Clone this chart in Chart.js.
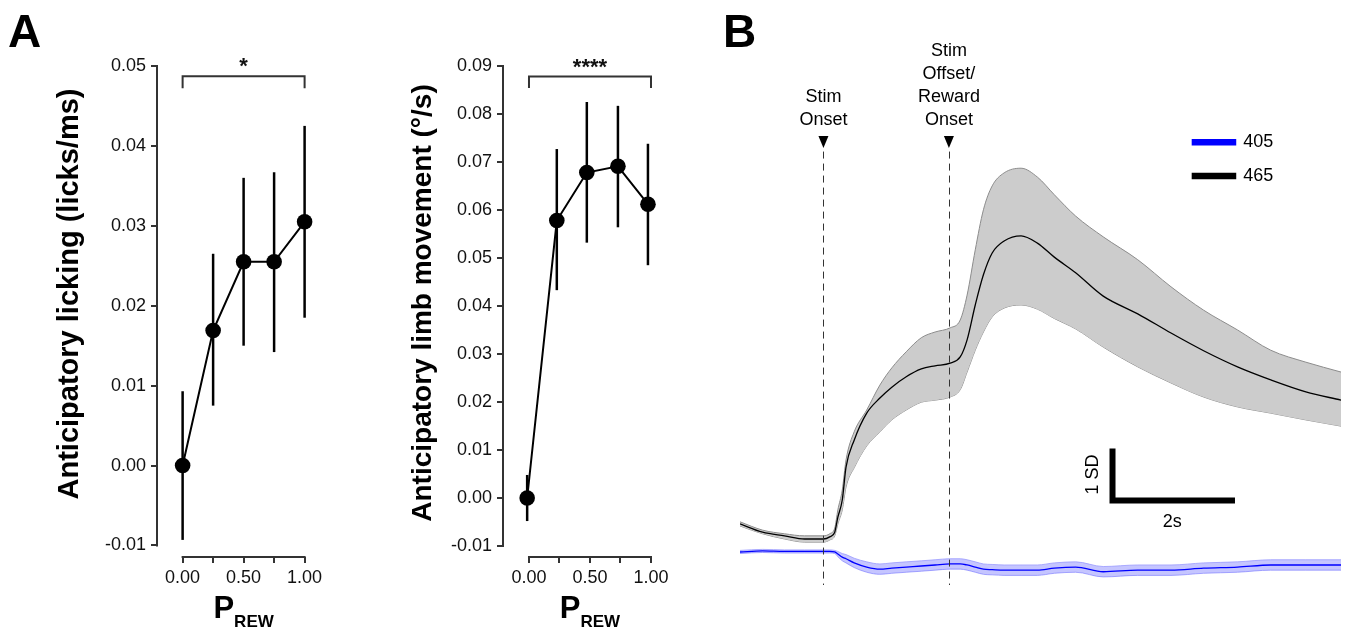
<!DOCTYPE html>
<html lang="en">
<head>
<meta charset="UTF-8">
<title>Anticipatory behaviour and photometry</title>
<script src="https://cdn.jsdelivr.net/npm/chart.js"></script>
<style>
  body { margin: 0; background: #fff; width: 1348px; height: 630px; overflow: hidden; position: relative; }
  canvas { position: absolute; top: 0; }
  #lickChart { left: 0; }
  #limbChart { left: 340px; }
  #traceChart { left: 700px; }
</style>
</head>
<body>
<canvas id="lickChart" width="340" height="630"></canvas>
<canvas id="limbChart" width="345" height="630"></canvas>
<canvas id="traceChart" width="648" height="630"></canvas>
<script>
// ---- panel A data ----
const xTickVals = [0, 0.25, 0.5, 0.75, 1];
const xTickLabels = ['0.00', '', '0.50', '', '1.00'];

const lickX = [0, 0.25, 0.5, 0.75, 1.0];
const lickMean = [0.0000, 0.0169, 0.0255, 0.0255, 0.0305];
const lickLow = [-0.0093, 0.0075, 0.0150, 0.0142, 0.0185];
const lickHigh = [0.0093, 0.0265, 0.0360, 0.0367, 0.0425];
const lickTicks = [-0.01, 0, 0.01, 0.02, 0.03, 0.04, 0.05];

const limbX = [-0.015, 0.228, 0.474, 0.729, 0.975];
const limbMean = [0.0000, 0.0578, 0.0678, 0.0691, 0.0612];
const limbLow = [-0.0048, 0.0433, 0.0532, 0.0564, 0.0485];
const limbHigh = [0.0048, 0.0727, 0.0825, 0.0817, 0.0738];
const limbTicks = [-0.01, 0, 0.01, 0.02, 0.03, 0.04, 0.05, 0.06, 0.07, 0.08, 0.09];

// ---- panel B data (time in s from stim onset, signal in SD) ----
const timeS = [-1.33, -0.97, -0.62, -0.30, 0.00, 0.10, 0.18, 0.23, 0.30, 0.36,
  0.49, 0.69, 0.90, 1.09, 1.32, 1.56, 1.78, 2.02, 2.18, 2.29,
  2.42, 2.55, 2.69, 2.88, 3.15, 3.41, 3.68, 4.02, 4.46, 5.01,
  5.54, 6.06, 6.60, 7.13, 7.69, 8.25];
const sig465 = [0.29, 0.13, 0.06, 0.00, 0.00, 0.04, 0.13, 0.42, 0.75, 1.38,
  1.90, 2.42, 2.71, 2.92, 3.12, 3.27, 3.33, 3.38, 3.50, 3.83,
  4.50, 5.08, 5.50, 5.73, 5.83, 5.69, 5.42, 5.12, 4.67, 4.33,
  3.96, 3.62, 3.31, 3.06, 2.83, 2.67];
const sig465Hi = [0.33, 0.17, 0.10, 0.06, 0.06, 0.10, 0.21, 0.56, 0.94, 1.52,
  2.06, 2.48, 2.96, 3.29, 3.60, 3.87, 3.98, 4.06, 4.21, 4.69,
  5.56, 6.33, 6.79, 7.04, 7.13, 6.96, 6.62, 6.21, 5.81, 5.37,
  4.85, 4.40, 4.02, 3.63, 3.40, 3.21];
const sig465Lo = [0.25, 0.10, 0.00, -0.06, -0.06, -0.02, 0.06, 0.29, 0.56, 1.00,
  1.37, 1.79, 2.06, 2.29, 2.48, 2.63, 2.67, 2.73, 2.87, 3.21,
  3.63, 3.98, 4.27, 4.44, 4.50, 4.42, 4.24, 4.04, 3.69, 3.31,
  3.00, 2.73, 2.54, 2.42, 2.29, 2.17];
const sig405 = [-0.25, -0.23, -0.24, -0.24, -0.24, -0.24, -0.25, -0.29, -0.35, -0.38,
  -0.46, -0.54, -0.58, -0.56, -0.54, -0.52, -0.50, -0.48, -0.48, -0.50,
  -0.54, -0.58, -0.59, -0.60, -0.60, -0.60, -0.56, -0.54, -0.63, -0.60,
  -0.60, -0.56, -0.54, -0.50, -0.50, -0.50];
const sig405Hi = [-0.22, -0.20, -0.21, -0.21, -0.21, -0.21, -0.22, -0.24, -0.28, -0.30,
  -0.37, -0.44, -0.48, -0.46, -0.44, -0.42, -0.40, -0.38, -0.38, -0.40,
  -0.44, -0.48, -0.49, -0.50, -0.50, -0.50, -0.46, -0.44, -0.53, -0.50,
  -0.50, -0.46, -0.44, -0.40, -0.40, -0.40];
const sig405Lo = [-0.28, -0.26, -0.27, -0.27, -0.27, -0.27, -0.28, -0.34, -0.42, -0.46,
  -0.55, -0.64, -0.68, -0.66, -0.64, -0.62, -0.60, -0.58, -0.58, -0.60,
  -0.64, -0.68, -0.69, -0.70, -0.70, -0.70, -0.66, -0.64, -0.73, -0.70,
  -0.70, -0.66, -0.64, -0.60, -0.60, -0.60];
const eventTimes = [0, 2];
const eventLabels = [['Stim', 'Onset'], ['Stim', 'Offset/', 'Reward', 'Onset']];
const legendLabels = ['405', '465'];

const FONT = '"Liberation Sans", Arial, Helvetica, sans-serif';
Chart.defaults.font.family = FONT;
Chart.defaults.color = '#111';

const pts = (xs, ys) => xs.map((x, i) => ({ x: x, y: ys[i] }));

// error bars, spines, bracket and titles for the two left panels
function panelPlugin(o) {
  return {
    id: 'panelDecor',
    beforeDatasetsDraw(chart) {
      const { ctx, scales: { x, y } } = chart;
      ctx.save();
      ctx.strokeStyle = '#000';
      ctx.lineWidth = 2.5;
      o.xs.forEach((xv, i) => {
        const px = x.getPixelForValue(xv);
        ctx.beginPath();
        ctx.moveTo(px, y.getPixelForValue(o.lo[i]));
        ctx.lineTo(px, y.getPixelForValue(o.hi[i]));
        ctx.stroke();
      });
      ctx.restore();
    },
    afterDraw(chart) {
      const { ctx, chartArea: a, scales: { x, y } } = chart;
      ctx.save();
      ctx.strokeStyle = '#333';
      ctx.lineWidth = 2;
      // detached spines
      ctx.beginPath();
      ctx.moveTo(a.left, y.getPixelForValue(o.yTicks[0]) + 1);
      ctx.lineTo(a.left, y.getPixelForValue(o.yTicks[o.yTicks.length - 1]) - 1);
      ctx.moveTo(x.getPixelForValue(xTickVals[0]) - 1, a.bottom);
      ctx.lineTo(x.getPixelForValue(xTickVals[xTickVals.length - 1]) + 1, a.bottom);
      ctx.stroke();

      // significance bracket
      const bx0 = x.getPixelForValue(0), bx1 = x.getPixelForValue(1);
      const by = y.getPixelForValue(o.bracketY), leg = y.getPixelForValue(o.bracketLeg);
      ctx.beginPath();
      ctx.moveTo(bx0, leg); ctx.lineTo(bx0, by); ctx.lineTo(bx1, by); ctx.lineTo(bx1, leg);
      ctx.stroke();
      ctx.fillStyle = '#111';
      ctx.textAlign = 'center';
      ctx.textBaseline = 'alphabetic';
      ctx.font = 'bold 22px ' + FONT;
      ctx.fillText(o.stars, (bx0 + bx1) / 2, by - 3);

      // x title P_REW
      const cx = x.getPixelForValue(0.5);
      ctx.font = 'bold 31px ' + FONT;
      const wP = ctx.measureText('P').width;
      ctx.font = 'bold 17px ' + FONT;
      const wR = ctx.measureText('REW').width;
      const sx = cx - (wP + wR) / 2;
      ctx.textAlign = 'left';
      ctx.fillStyle = '#000';
      ctx.font = 'bold 31px ' + FONT;
      ctx.fillText('P', sx, a.bottom + 61);
      ctx.font = 'bold 17px ' + FONT;
      ctx.fillText('REW', sx + wP, a.bottom + 70);

      // y title
      ctx.save();
      ctx.translate(a.left - o.titleOffset, o.titleY);
      ctx.rotate(-Math.PI / 2);
      ctx.textAlign = 'center';
      ctx.textBaseline = 'middle';
      ctx.font = 'bold ' + o.titleSize + 'px ' + FONT;
      ctx.fillText(o.yTitle, 0, 0);
      ctx.restore();

      if (o.letter) {
        ctx.font = 'bold 46px ' + FONT;
        ctx.textAlign = 'left';
        ctx.textBaseline = 'alphabetic';
        ctx.fillText(o.letter, 8, 47);
      }
      ctx.restore();
    }
  };
}

function errorPanel(id, o) {
  return new Chart(document.getElementById(id), {
    type: 'line',
    data: {
      datasets: [{
        data: pts(o.xs, o.mean),
        borderColor: '#000',
        borderWidth: 2,
        pointRadius: 7.8,
        pointBackgroundColor: '#000',
        pointBorderWidth: 0,
        tension: 0
      }]
    },
    options: {
      responsive: false,
      animation: false,
      events: [],
      layout: { padding: { left: o.padLeft, right: o.padRight, top: 18, bottom: 0 } },
      plugins: { legend: { display: false }, tooltip: { enabled: false } },
      scales: {
        x: {
          type: 'linear',
          min: o.xMin,
          max: 1.2,
          afterFit: s => { s.height = 73; },
          afterBuildTicks: s => { s.ticks = xTickVals.map(v => ({ value: v })); },
          grid: { drawOnChartArea: false, tickLength: 6, color: '#333', lineWidth: 2 },
          border: { display: false },
          ticks: { autoSkip: false, maxRotation: 0, padding: 4, font: { size: 18 }, color: '#111',
            callback: (v, i) => xTickLabels[i] }
        },
        y: {
          min: o.yMin,
          max: o.yMax,
          afterFit: s => { s.width = 100; },
          afterBuildTicks: s => { s.ticks = o.yTicks.map(v => ({ value: v })); },
          grid: { drawOnChartArea: false, tickLength: 6, color: '#333', lineWidth: 2 },
          border: { display: false },
          ticks: { padding: 5, font: { size: 18 }, color: '#111', callback: v => v.toFixed(2) }
        }
      }
    },
    plugins: [panelPlugin(o)]
  });
}

errorPanel('lickChart', {
  xs: lickX, mean: lickMean, lo: lickLow, hi: lickHigh, yTicks: lickTicks,
  xMin: -0.21, yMin: -0.01144, yMax: 0.056, padLeft: 57, padRight: 11,
  bracketY: 0.0487, bracketLeg: 0.0472, stars: '*',
  yTitle: 'Anticipatory licking (licks/ms)', titleOffset: 87, titleY: 294, titleSize: 29, letter: 'A'
});

errorPanel('limbChart', {
  xs: limbX, mean: limbMean, lo: limbLow, hi: limbHigh, yTicks: limbTicks,
  xMin: -0.213, yMin: -0.01229, yMax: 0.10, padLeft: 63, padRight: 9.6,
  bracketY: 0.0878, bracketLeg: 0.0854, stars: '****',
  yTitle: 'Anticipatory limb movement (\u00b0/s)', titleOffset: 80, titleY: 303, titleSize: 28, letter: null
});

// ---- panel B ----
const traceColors = { 465: '#000000', 405: '#0000ff' };

const traceDecor = {
  id: 'traceDecor',
  afterDatasetsDraw(chart) {
    const { ctx, chartArea: a, scales: { x, y } } = chart;
    ctx.save();
    // event markers
    ctx.strokeStyle = '#333';
    ctx.lineWidth = 1;
    ctx.setLineDash([7, 5]);
    eventTimes.forEach(t => {
      const px = Math.round(x.getPixelForValue(t)) + 0.5;
      ctx.beginPath();
      ctx.moveTo(px, y.getPixelForValue(7.45));
      ctx.lineTo(px, a.bottom);
      ctx.stroke();
    });
    ctx.setLineDash([]);
    ctx.fillStyle = '#000';
    ctx.font = '18px ' + FONT;
    ctx.textAlign = 'center';
    ctx.textBaseline = 'middle';
    eventTimes.forEach((t, k) => {
      const px = x.getPixelForValue(t);
      const top = y.getPixelForValue(7.75);
      ctx.beginPath();
      ctx.moveTo(px - 5, top); ctx.lineTo(px + 5, top); ctx.lineTo(px, top + 12);
      ctx.closePath();
      ctx.fill();
      const lines = eventLabels[k];
      lines.forEach((s, j) => {
        ctx.fillText(s, px, top - 16 - (lines.length - 1 - j) * 23);
      });
    });

    // legend
    const legY = [7.63, 6.98];
    legendLabels.forEach((lab, k) => {
      const ly = y.getPixelForValue(legY[k]);
      ctx.strokeStyle = traceColors[lab];
      ctx.lineWidth = 6.5;
      ctx.beginPath();
      ctx.moveTo(x.getPixelForValue(5.87), ly);
      ctx.lineTo(x.getPixelForValue(6.58), ly);
      ctx.stroke();
      ctx.textAlign = 'left';
      ctx.fillText(lab, x.getPixelForValue(6.69), ly);
    });

    // scale bar: 2 s by 1 SD
    const sx0 = x.getPixelForValue(4.56), sx1 = x.getPixelForValue(6.56);
    const sy0 = y.getPixelForValue(0.74), sy1 = y.getPixelForValue(1.74);
    ctx.strokeStyle = '#000';
    ctx.lineWidth = 6;
    ctx.lineCap = 'butt';
    ctx.lineJoin = 'miter';
    ctx.beginPath();
    ctx.moveTo(sx0 + 3, sy1);
    ctx.lineTo(sx0 + 3, sy0);
    ctx.lineTo(sx1, sy0);
    ctx.stroke();
    ctx.textAlign = 'center';
    ctx.fillText('2s', (sx0 + sx1) / 2, sy0 + 22);
    ctx.save();
    ctx.translate(sx0 - 16, (sy0 + sy1) / 2);
    ctx.rotate(-Math.PI / 2);
    ctx.fillText('1 SD', 0, 0);
    ctx.restore();

    ctx.font = 'bold 46px ' + FONT;
    ctx.textAlign = 'left';
    ctx.textBaseline = 'alphabetic';
    ctx.fillText('B', 23, 47);
    ctx.restore();
  }
};

new Chart(document.getElementById('traceChart'), {
  type: 'line',
  data: {
    datasets: [
      { data: pts(timeS, sig465Hi), borderColor: '#8c8c8c', borderWidth: 1, backgroundColor: '#cccccc', fill: '+1', order: 6 },
      { data: pts(timeS, sig465Lo), borderColor: '#8c8c8c', borderWidth: 1, fill: false, order: 6 },
      { data: pts(timeS, sig465), borderColor: traceColors[465], borderWidth: 1.3, fill: false, order: 5 },
      { data: pts(timeS, sig405Hi), borderColor: '#9a9aff', borderWidth: 0.8, backgroundColor: 'rgba(90,90,255,0.35)', fill: '+1', order: 4 },
      { data: pts(timeS, sig405Lo), borderColor: '#9a9aff', borderWidth: 0.8, fill: false, order: 4 },
      { data: pts(timeS, sig405), borderColor: traceColors[405], borderWidth: 1.3, fill: false, order: 3 }
    ]
  },
  options: {
    responsive: false,
    animation: false,
    events: [],
    layout: { padding: { left: 40, right: 7, top: 20, bottom: 45 } },
    elements: { point: { radius: 0 }, line: { cubicInterpolationMode: 'monotone' } },
    plugins: { legend: { display: false }, tooltip: { enabled: false } },
    scales: {
      x: { type: 'linear', min: -1.33, max: 8.25, display: false },
      y: { min: -0.885, max: 9.98, display: false }
    }
  },
  plugins: [traceDecor]
});
</script>
</body>
</html>
